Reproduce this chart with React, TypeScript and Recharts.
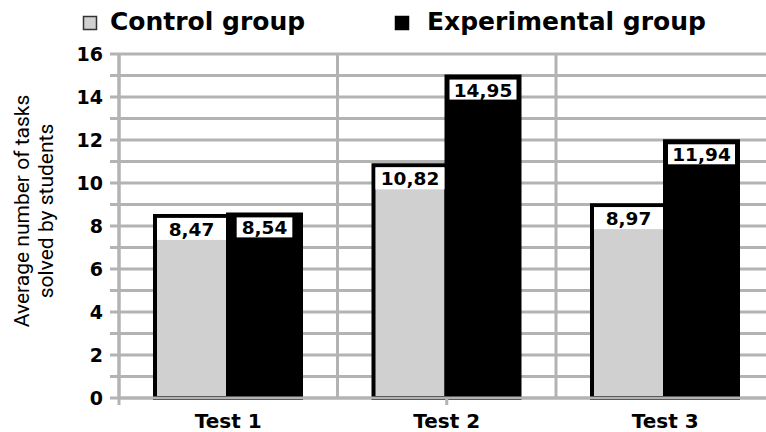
import { Bar, BarChart, CartesianGrid, LabelList, Legend, XAxis, YAxis } from "recharts"

const tests = ["Test 1", "Test 2", "Test 3"]
const controlGroup = [8.47, 10.82, 8.97]
const experimentalGroup = [8.54, 14.95, 11.94]
const yTicks = [0, 1, 2, 3, 4, 5, 6, 7, 8, 9, 10, 11, 12, 13, 14, 15, 16]
const slotEdges = [0, 1, 2, 3]

const data = tests.map((name, i) => ({
    name,
    control: controlGroup[i],
    experimental: experimentalGroup[i],
}))

const GRID = "#b3b3b3"
const BOLD = "'DejaVu Sans', sans-serif"

const fmt = (v: number) => v.toFixed(2).replace(".", ",")

// rough width of DejaVu Sans Bold digits / comma
const textWidth = (s: string, size: number) =>
    s.split("").reduce((w, c) => w + (c === "," ? 0.38 : 0.696), 0) * size

function ControlTag(props: any) {
    const { x, y, width, value } = props
    return (
        <g>
            <rect x={x + 2} y={y + 2} width={width - 4} height={22} fill="#fff" />
            <text x={x + width / 2} y={y + 20} textAnchor="middle" fontFamily={BOLD} fontWeight="bold" fontSize={18.5} fill="#000">
                {fmt(value)}
            </text>
        </g>
    )
}

function ExperimentalTag(props: any) {
    const { x, y, width, value } = props
    const label = fmt(value)
    const bw = Math.min(textWidth(label, 18.5) + 10, width - 6)
    return (
        <g>
            <rect x={x + width / 2 - bw / 2} y={y + 3} width={bw} height={20} fill="#fff" />
            <text x={x + width / 2} y={y + 20} textAnchor="middle" fontFamily={BOLD} fontWeight="bold" fontSize={18.5} fill="#000">
                {label}
            </text>
        </g>
    )
}

function LegendBox() {
    return (
        <svg width={766} height={40}>
            <rect x={83.5} y={16.5} width={13} height={13} fill="#d0d0d0" stroke="#333" strokeWidth={1.5} />
            <text x={110} y={29.5} fontFamily={BOLD} fontWeight="bold" fontSize={25} fill="#000">
                Control group
            </text>
            <rect x={395.5} y={16.5} width={13} height={13} fill="#000" stroke="#000" strokeWidth={1.5} />
            <text x={427} y={29.5} fontFamily={BOLD} fontWeight="bold" fontSize={25} fill="#000">
                Experimental group
            </text>
        </svg>
    )
}

function AxisTitle() {
    return (
        <text transform="rotate(-90)" textAnchor="middle" fontFamily="Roboto, sans-serif" fontSize={21} fill="#000">
            <tspan x={-211} y={29}>Average number of tasks</tspan>
            <tspan x={-211} y={53}>solved by students</tspan>
        </text>
    )
}

export default function App() {
    return (
        <div style={{ position: "absolute", left: 0, top: 0, width: 766, height: 432, overflow: "hidden", background: "#fff" }}>
            <BarChart
                width={790}
                height={432}
                data={data}
                margin={{ top: 14, right: 15.5, left: 59, bottom: 3 }}
                barGap={0}
                barCategoryGap={36}
            >
                <Legend verticalAlign="top" height={40} wrapperStyle={{ top: 0, left: 0, width: 766 }} content={() => <LegendBox />} />
                <CartesianGrid
                    stroke={GRID}
                    strokeWidth={3}
                    horizontalValues={yTicks}
                    verticalCoordinatesGenerator={({ offset }: any) =>
                        slotEdges.map((e) => offset.left + (e * offset.width) / slotEdges[slotEdges.length - 1])
                    }
                />
                <XAxis
                    xAxisId="b-cat"
                    dataKey="name"
                    height={30}
                    axisLine={false}
                    tickLine={false}
                    tickSize={0}
                    tickMargin={15}
                    tick={{ fontFamily: BOLD, fontWeight: "bold", fontSize: 20, fill: "#000" }}
                />
                <XAxis
                    xAxisId="a-edge"
                    type="number"
                    domain={[0, 3]}
                    allowDataOverflow
                    ticks={slotEdges}
                    interval={0}
                    height={1}
                    tickFormatter={() => ""}
                    tickSize={7}
                    tickLine={{ stroke: GRID, strokeWidth: 3 }}
                    axisLine={{ stroke: GRID, strokeWidth: 3 }}
                />
                <YAxis
                    width={60}
                    domain={[0, 16]}
                    ticks={yTicks}
                    interval={0}
                    tickSize={9}
                    tickMargin={7}
                    tickFormatter={(v: number) => (v % 2 === 0 ? String(v) : "")}
                    tick={{ fontFamily: BOLD, fontWeight: "bold", fontSize: 19, fill: "#000" }}
                    tickLine={{ stroke: GRID, strokeWidth: 3 }}
                    axisLine={{ stroke: GRID, strokeWidth: 3 }}
                    label={{ content: () => <AxisTitle /> }}
                />
                <Bar xAxisId="b-cat" dataKey="control" name="Control group" fill="#d0d0d0" stroke="#000" strokeWidth={4} isAnimationActive={false}>
                    <LabelList dataKey="control" content={ControlTag} />
                </Bar>
                <Bar xAxisId="b-cat" dataKey="experimental" name="Experimental group" fill="#000" stroke="#000" strokeWidth={4} isAnimationActive={false}>
                    <LabelList dataKey="experimental" content={ExperimentalTag} />
                </Bar>
            </BarChart>
        </div>
    )
}
